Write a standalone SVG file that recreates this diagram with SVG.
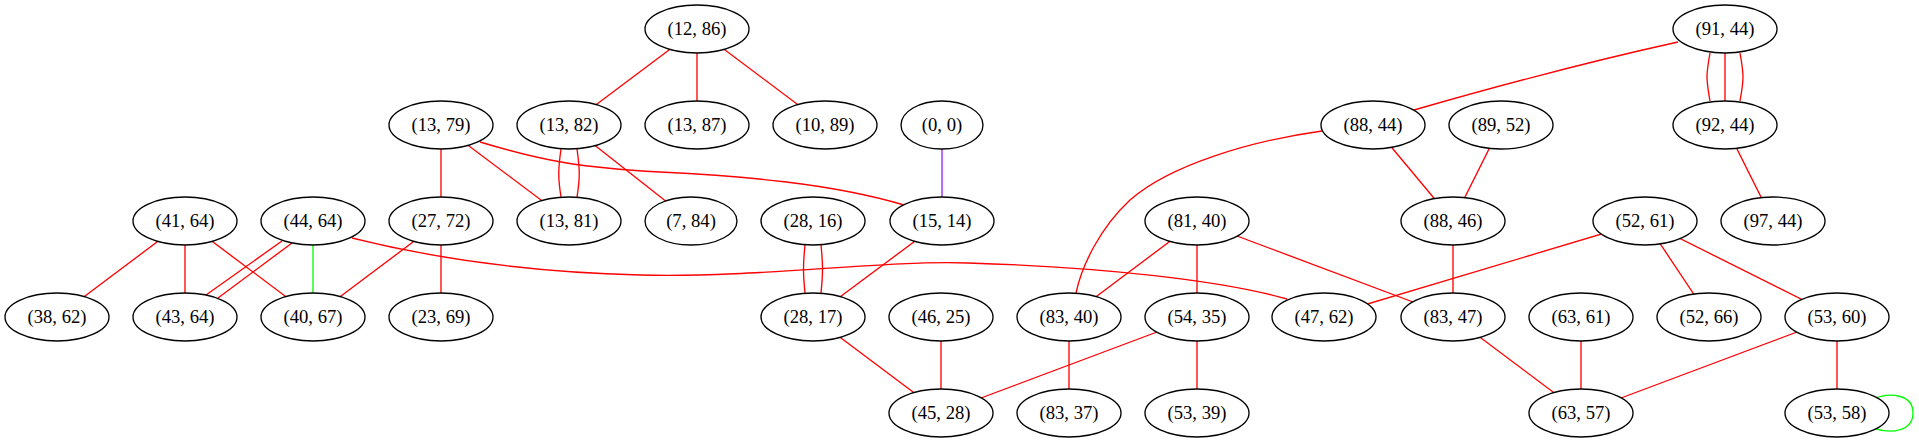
<svg xmlns="http://www.w3.org/2000/svg" width="1919" height="443" viewBox="0 0 1919 443">
<style>
.n ellipse{fill:#ffffff;stroke:#000000;stroke-width:1.33}
.n text{font-family:"Liberation Serif","Times New Roman",serif;font-size:18.67px;text-anchor:middle;fill:#000000}
.e path,.e line{fill:none;stroke-width:1.33}
.r{stroke:#ff0000}
.g{stroke:#00ff00}
.p{stroke:#a020f0}
</style>
<rect width="1919" height="443" fill="#ffffff"/>
<g id="edges" class="e">
<line class="r" x1="697" y1="29" x2="569" y2="125"/>
<line class="r" x1="697" y1="29" x2="697" y2="125"/>
<line class="r" x1="697" y1="29" x2="825" y2="125"/>
<line class="r" x1="441" y1="125" x2="441" y2="221"/>
<line class="r" x1="441" y1="125" x2="569" y2="221"/>
<path class="r" d="M480,142 C540,160 580,168 660,172 C740,176 830,183 904,205"/>
<path class="r" d="M561,149 C558,170 558,178 561,197"/>
<path class="r" d="M577,149 C580,170 580,178 577,197"/>
<line class="r" x1="569" y1="125" x2="691" y2="221"/>
<line class="p" x1="942" y1="125" x2="942" y2="221"/>
<line class="r" x1="185" y1="221" x2="57" y2="317"/>
<line class="r" x1="185" y1="221" x2="185" y2="317"/>
<line class="r" x1="185" y1="221" x2="313" y2="317"/>
<path class="r" d="M282,241 L206,295"/>
<path class="r" d="M292,243 L218,298"/>
<line class="g" x1="313" y1="221" x2="313" y2="317"/>
<path class="r" d="M352,238 C420,255 520,272 640,275 C760,278 880,260 968,263 C1100,267 1220,280 1287,299"/>
<line class="r" x1="441" y1="221" x2="313" y2="317"/>
<line class="r" x1="441" y1="221" x2="441" y2="317"/>
<path class="r" d="M805,245 C803,265 803,273 805,293"/>
<path class="r" d="M821,245 C823,265 823,273 821,293"/>
<line class="r" x1="942" y1="221" x2="813" y2="317"/>
<line class="r" x1="813" y1="317" x2="941" y2="413"/>
<line class="r" x1="941" y1="317" x2="941" y2="413"/>
<line class="r" x1="1197" y1="317" x2="941" y2="413"/>
<line class="r" x1="1197" y1="221" x2="1069" y2="317"/>
<line class="r" x1="1197" y1="221" x2="1197" y2="317"/>
<line class="r" x1="1197" y1="221" x2="1453" y2="317"/>
<line class="r" x1="1069" y1="317" x2="1069" y2="413"/>
<line class="r" x1="1197" y1="317" x2="1197" y2="413"/>
<path class="r" d="M1678,42 Q1560,68 1414,110"/>
<path class="r" d="M1710,53 C1706,75 1706,79 1710,101"/>
<line class="r" x1="1725" y1="53" x2="1725" y2="101"/>
<path class="r" d="M1740,53 C1744,75 1744,79 1740,101"/>
<path class="r" d="M1322,131 C1250,141 1170,165 1130,200 C1100,228 1082,265 1076,293"/>
<line class="r" x1="1373" y1="125" x2="1453" y2="221"/>
<line class="r" x1="1501" y1="125" x2="1453" y2="221"/>
<line class="r" x1="1725" y1="125" x2="1773" y2="221"/>
<line class="r" x1="1453" y1="221" x2="1453" y2="317"/>
<line class="r" x1="1645" y1="221" x2="1324" y2="317"/>
<line class="r" x1="1645" y1="221" x2="1709" y2="317"/>
<line class="r" x1="1645" y1="221" x2="1837" y2="317"/>
<line class="r" x1="1453" y1="317" x2="1581" y2="413"/>
<line class="r" x1="1581" y1="317" x2="1581" y2="413"/>
<line class="r" x1="1837" y1="317" x2="1581" y2="413"/>
<line class="r" x1="1837" y1="317" x2="1837" y2="413"/>
<path class="g" d="M1873,399 C1890,392 1913,394 1913,413 C1913,432 1890,434 1873,428"/>
</g>
<g id="n12_86" class="n"><ellipse cx="697" cy="29" rx="52" ry="24"/><text x="697" y="35">(12, 86)</text></g>
<g id="n91_44" class="n"><ellipse cx="1725" cy="29" rx="52" ry="24"/><text x="1725" y="35">(91, 44)</text></g>
<g id="n13_79" class="n"><ellipse cx="441" cy="125" rx="52" ry="24"/><text x="441" y="131">(13, 79)</text></g>
<g id="n13_82" class="n"><ellipse cx="569" cy="125" rx="52" ry="24"/><text x="569" y="131">(13, 82)</text></g>
<g id="n13_87" class="n"><ellipse cx="697" cy="125" rx="52" ry="24"/><text x="697" y="131">(13, 87)</text></g>
<g id="n10_89" class="n"><ellipse cx="825" cy="125" rx="52" ry="24"/><text x="825" y="131">(10, 89)</text></g>
<g id="n0_0" class="n"><ellipse cx="942" cy="125" rx="41" ry="24"/><text x="942" y="131">(0, 0)</text></g>
<g id="n88_44" class="n"><ellipse cx="1373" cy="125" rx="52" ry="24"/><text x="1373" y="131">(88, 44)</text></g>
<g id="n89_52" class="n"><ellipse cx="1501" cy="125" rx="52" ry="24"/><text x="1501" y="131">(89, 52)</text></g>
<g id="n92_44" class="n"><ellipse cx="1725" cy="125" rx="52" ry="24"/><text x="1725" y="131">(92, 44)</text></g>
<g id="n41_64" class="n"><ellipse cx="185" cy="221" rx="52" ry="24"/><text x="185" y="227">(41, 64)</text></g>
<g id="n44_64" class="n"><ellipse cx="313" cy="221" rx="52" ry="24"/><text x="313" y="227">(44, 64)</text></g>
<g id="n27_72" class="n"><ellipse cx="441" cy="221" rx="52" ry="24"/><text x="441" y="227">(27, 72)</text></g>
<g id="n13_81" class="n"><ellipse cx="569" cy="221" rx="52" ry="24"/><text x="569" y="227">(13, 81)</text></g>
<g id="n7_84" class="n"><ellipse cx="691" cy="221" rx="46" ry="24"/><text x="691" y="227">(7, 84)</text></g>
<g id="n28_16" class="n"><ellipse cx="813" cy="221" rx="52" ry="24"/><text x="813" y="227">(28, 16)</text></g>
<g id="n15_14" class="n"><ellipse cx="942" cy="221" rx="52" ry="24"/><text x="942" y="227">(15, 14)</text></g>
<g id="n81_40" class="n"><ellipse cx="1197" cy="221" rx="52" ry="24"/><text x="1197" y="227">(81, 40)</text></g>
<g id="n88_46" class="n"><ellipse cx="1453" cy="221" rx="52" ry="24"/><text x="1453" y="227">(88, 46)</text></g>
<g id="n52_61" class="n"><ellipse cx="1645" cy="221" rx="52" ry="24"/><text x="1645" y="227">(52, 61)</text></g>
<g id="n97_44" class="n"><ellipse cx="1773" cy="221" rx="52" ry="24"/><text x="1773" y="227">(97, 44)</text></g>
<g id="n38_62" class="n"><ellipse cx="57" cy="317" rx="52" ry="24"/><text x="57" y="323">(38, 62)</text></g>
<g id="n43_64" class="n"><ellipse cx="185" cy="317" rx="52" ry="24"/><text x="185" y="323">(43, 64)</text></g>
<g id="n40_67" class="n"><ellipse cx="313" cy="317" rx="52" ry="24"/><text x="313" y="323">(40, 67)</text></g>
<g id="n23_69" class="n"><ellipse cx="441" cy="317" rx="52" ry="24"/><text x="441" y="323">(23, 69)</text></g>
<g id="n28_17" class="n"><ellipse cx="813" cy="317" rx="52" ry="24"/><text x="813" y="323">(28, 17)</text></g>
<g id="n46_25" class="n"><ellipse cx="941" cy="317" rx="52" ry="24"/><text x="941" y="323">(46, 25)</text></g>
<g id="n83_40" class="n"><ellipse cx="1069" cy="317" rx="52" ry="24"/><text x="1069" y="323">(83, 40)</text></g>
<g id="n54_35" class="n"><ellipse cx="1197" cy="317" rx="52" ry="24"/><text x="1197" y="323">(54, 35)</text></g>
<g id="n47_62" class="n"><ellipse cx="1324" cy="317" rx="52" ry="24"/><text x="1324" y="323">(47, 62)</text></g>
<g id="n83_47" class="n"><ellipse cx="1453" cy="317" rx="52" ry="24"/><text x="1453" y="323">(83, 47)</text></g>
<g id="n63_61" class="n"><ellipse cx="1581" cy="317" rx="52" ry="24"/><text x="1581" y="323">(63, 61)</text></g>
<g id="n52_66" class="n"><ellipse cx="1709" cy="317" rx="52" ry="24"/><text x="1709" y="323">(52, 66)</text></g>
<g id="n53_60" class="n"><ellipse cx="1837" cy="317" rx="52" ry="24"/><text x="1837" y="323">(53, 60)</text></g>
<g id="n45_28" class="n"><ellipse cx="941" cy="413" rx="52" ry="24"/><text x="941" y="419">(45, 28)</text></g>
<g id="n83_37" class="n"><ellipse cx="1069" cy="413" rx="52" ry="24"/><text x="1069" y="419">(83, 37)</text></g>
<g id="n53_39" class="n"><ellipse cx="1197" cy="413" rx="52" ry="24"/><text x="1197" y="419">(53, 39)</text></g>
<g id="n63_57" class="n"><ellipse cx="1581" cy="413" rx="52" ry="24"/><text x="1581" y="419">(63, 57)</text></g>
<g id="n53_58" class="n"><ellipse cx="1837" cy="413" rx="52" ry="24"/><text x="1837" y="419">(53, 58)</text></g>
</svg>
